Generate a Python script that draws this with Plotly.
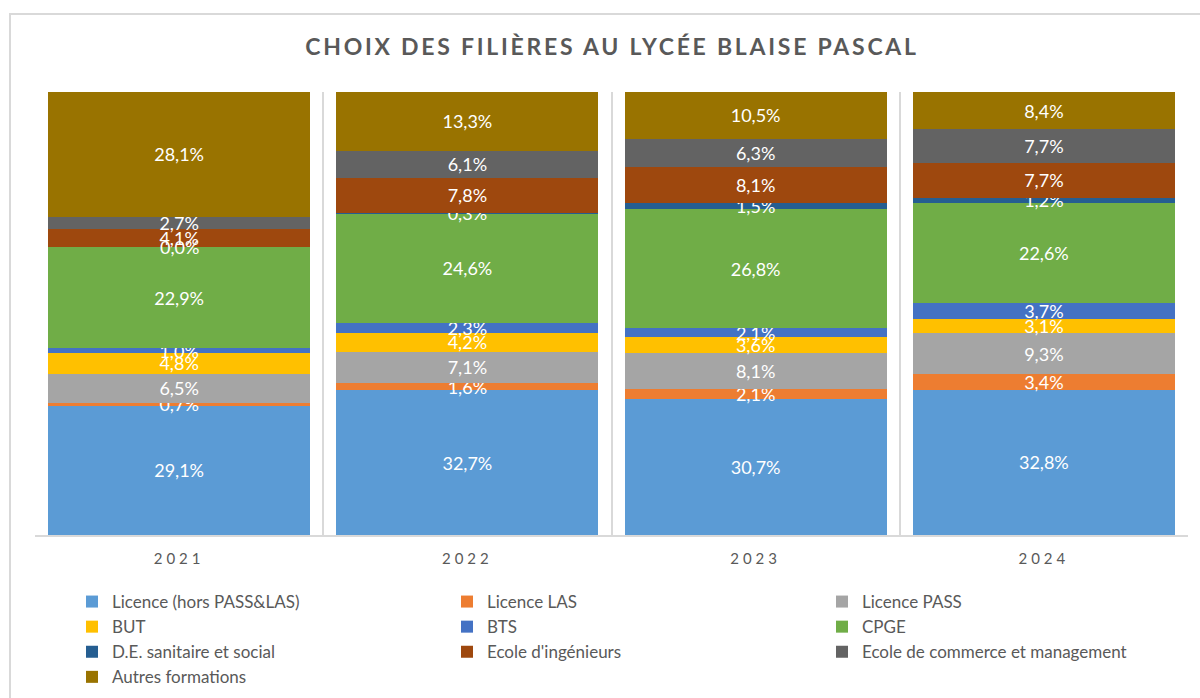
import plotly.graph_objects as go

years = ["2021", "2022", "2023", "2024"]

series_names = [
    "Licence (hors PASS&LAS)", "Licence LAS", "Licence PASS", "BUT", "BTS",
    "CPGE", "D.E. sanitaire et social", "Ecole d'ingénieurs",
    "Ecole de commerce et management", "Autres formations",
]

licence = [29.1, 32.7, 30.7, 32.8]
licence_las = [0.7, 1.6, 2.1, 3.4]
licence_pass = [6.5, 7.1, 8.1, 9.3]
but = [4.8, 4.2, 3.6, 3.1]
bts = [1.0, 2.3, 2.1, 3.7]
cpge = [22.9, 24.6, 26.8, 22.6]
de_sanitaire = [0.0, 0.3, 1.5, 1.2]
ecole_ing = [4.1, 7.8, 8.1, 7.7]
ecole_com = [2.7, 6.1, 6.3, 7.7]
autres = [28.1, 13.3, 10.5, 8.4]

series_values = [licence, licence_las, licence_pass, but, bts, cpge,
                 de_sanitaire, ecole_ing, ecole_com, autres]

colors = ["#5B9BD5", "#ED7D31", "#A5A5A5", "#FFC000", "#4472C4",
          "#70AD47", "#255E91", "#9E480E", "#636363", "#997300"]

FONT = "Lato"
GREY = "#595959"

fig = go.Figure()
for name, vals, col in zip(series_names, series_values, colors):
    fig.add_trace(go.Bar(
        x=years, y=vals, name=name, customdata=vals,
        marker=dict(color=col, line=dict(width=0)),
        texttemplate="%{customdata:.1f}%",
        textposition="inside", insidetextanchor="middle", textangle=0,
        textfont=dict(family=FONT, size=18, color="#ffffff"),
    ))

# labels for zero-height segments (plotly draws no text for them)
annotations = []
totals = [sum(s[i] for s in series_values) for i in range(len(years))]
for i in range(len(years)):
    cum = 0.0
    for vals in series_values:
        if vals[i] == 0:
            annotations.append(dict(
                x=i, y=100 * cum / totals[i], xref="x", yref="y",
                text=f"{vals[i]:.1f}%".replace(".", ","), showarrow=False,
                font=dict(family=FONT, size=18, color="#ffffff")))
        cum += vals[i]

fig.update_layout(
    width=1200, height=698,
    barmode="stack", barnorm="percent", bargap=0.091,
    separators=", ",
    paper_bgcolor="white", plot_bgcolor="white",
    margin=dict(l=35, r=12, t=92, b=163),
    uniformtext=dict(mode="show", minsize=18),
    title=dict(text="CHOIX DES FILIÈRES AU LYCÉE BLAISE PASCAL",
               x=0.51, xref="container", xanchor="center",
               y=1 - 47 / 698, yref="container", yanchor="middle",
               font=dict(family=FONT, size=23, color=GREY, weight="bold")),
    xaxis=dict(type="category", tickson="boundaries", showgrid=True,
               range=[-0.5, len(years) - 0.5],
               gridcolor="#D9D9D9", gridwidth=2, showline=True,
               linecolor="#D9D9D9", linewidth=2, ticks="",
               ticklabelstandoff=9,
               tickfont=dict(family=FONT, size=15, color=GREY)),
    yaxis=dict(range=[0, 100], visible=False, showgrid=False),
    legend=dict(orientation="h", traceorder="normal",
                xref="container", yref="container",
                x=72 / 1200, xanchor="left",
                y=1 - 584 / 698, yanchor="top",
                entrywidth=330, entrywidthmode="pixels",
                font=dict(family=FONT, size=17, color=GREY),
                itemwidth=30, tracegroupgap=0),
    annotations=annotations,
    shapes=[dict(type="rect", xref="paper", yref="paper",
                 x0=(10 - 35) / 1153, x1=(1215 - 35) / 1153,
                 y0=(535 - 720) / 443, y1=(535 - 14) / 443,
                 line=dict(color="#D9D9D9", width=2), layer="below")],
)

post = """
document.body.style.margin = '0';
var gd = document.getElementById('{plot_id}');
function ls(){
  gd.querySelectorAll('.gtitle').forEach(function(e){e.style.letterSpacing='2.75px';});
  gd.querySelectorAll('.xtick text').forEach(function(e){e.style.letterSpacing='4px';});
}
ls();
gd.on('plotly_afterplot', ls);
"""

fig.write_html("out.html", post_script=post,
               config={"displayModeBar": False})
